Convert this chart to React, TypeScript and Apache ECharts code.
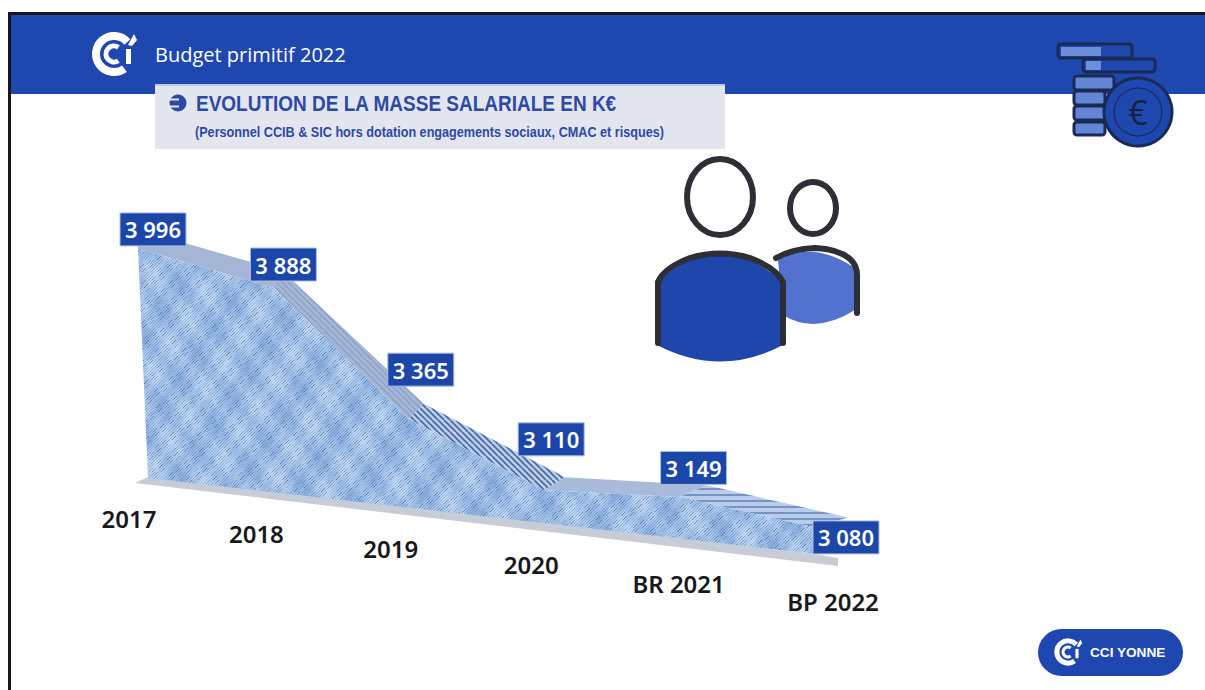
import React, { useEffect, useRef } from "react";
import * as echarts from "echarts";

const categories = ["2017", "2018", "2019", "2020", "BR 2021", "BP 2022"];
const salaryValues = [3996, 3888, 3365, 3110, 3149, 3080];
const valueLabels = ["3 996", "3 888", "3 365", "3 110", "3 149", "3 080"];

// Label placement relative to each point of the front face
const valueLabelNudge = [[15, -19], [10, -23], [12, -49], [7, -51], [14, -29], [31, 10]];
const categoryNudge = [[-9, 40], [-17, 40], [-18, 40], [-13, 41], [-1, 45], [18, 47]];

const BLUE = "#1f47b0";
const DARK = "#2c2f36";
const FONT = '"Open Sans", "Noto Sans", sans-serif';
const SKEW_PER_STEP = 15.2;

function tile(size: number, paint: (c: CanvasRenderingContext2D) => void) {
  const canvas = document.createElement("canvas");
  canvas.width = size;
  canvas.height = size;
  paint(canvas.getContext("2d") as CanvasRenderingContext2D);
  return { image: canvas, repeat: "repeat" as const };
}

// Woven diagonal hatching of the front face: fine broken strokes over soft mottling
function hatchPattern() {
  const size = 192;
  const turn = (2 * Math.PI) / size;
  return tile(size, (c) => {
    for (let gy = 0; gy < size; gy += 2) {
      for (let gx = 0; gx < size; gx += 2) {
        const w =
          Math.sin(gx * turn * 3 + gy * turn * 2) +
          Math.sin(gx * turn * 5 - gy * turn * 4) +
          0.6 * Math.sin(gx * turn * 13 + gy * turn * 9);
        const r = 166 + 12 * w;
        const g = 197 + 9 * w;
        const b = 236 + 5 * w;
        c.fillStyle = `rgb(${r},${g},${b})`;
        c.fillRect(gx, gy, 2, 2);
      }
    }
    c.lineWidth = 1;
    for (let k = -size; k < 2 * size; k += 3) {
      for (let t = 0; t < size; t += 4) {
        const w = Math.sin((k + 2 * t) * turn * 7) * Math.sin((k - t) * turn * 11);
        const alpha = 0.14 + 0.5 * w * w;
        c.strokeStyle = `rgba(40,72,122,${alpha})`;
        c.beginPath();
        c.moveTo(k + t, size - t);
        c.lineTo(k + t + 4, size - t - 4);
        c.stroke();
      }
    }
  });
}

function stripePattern(base: string, line: string, dir: "down" | "flat") {
  return tile(12, (c) => {
    c.fillStyle = base;
    c.fillRect(0, 0, 12, 12);
    c.strokeStyle = line;
    c.lineWidth = 1.6;
    c.beginPath();
    if (dir === "flat") {
      c.moveTo(0, 3);
      c.lineTo(12, 3);
      c.moveTo(0, 9);
      c.lineTo(12, 9);
    } else {
      for (let k = -12; k <= 24; k += 6) {
        c.moveTo(k, 0);
        c.lineTo(k + 12, 12);
      }
    }
    c.stroke();
  });
}

function logoElements(cx: number, cy: number, k: number, color: string) {
  const arc = (r: number, w: number, a0: number, a1: number) => ({
    type: "arc",
    shape: { cx, cy, r: r * k, startAngle: a0, endAngle: a1, clockwise: true },
    style: { stroke: color, fill: "none", lineWidth: w * k, lineCap: "butt" },
  });
  return [
    arc(18, 8, 0.95, 5.55),
    arc(8, 5, 1.0, 5.3),
    { type: "rect", shape: { x: cx + 12 * k, y: cy - 5 * k, width: 5 * k, height: 15 * k }, style: { fill: color } },
    { type: "polygon", shape: { points: [[cx + 14 * k, cy - 9 * k], [cx + 20 * k, cy - 20 * k], [cx + 23 * k, cy - 14 * k], [cx + 18 * k, cy - 8 * k]] }, style: { fill: color } },
  ];
}

function coinBar(x: number, y: number, w: number, h: number, fill: string) {
  return { type: "rect", shape: { x, y, width: w, height: h, r: 3 }, style: { fill, stroke: "#1b2a52", lineWidth: 3 } };
}

export default function App() {
  const ref = useRef<HTMLDivElement>(null);

  useEffect(() => {
    document.body.style.margin = "0";
    echarts.graphic.registerShape(
      "bodyFront",
      echarts.graphic.extendPath("M657 282 Q720 226 783 282 L783 345 Q720 378 657 345 Z", {})
    );
    echarts.graphic.registerShape(
      "bodyFrontLine",
      echarts.graphic.extendPath("M658 343 L658 282 Q664 268 690 258 Q720 249 750 258 Q776 268 783 282 L783 343", {})
    );
    echarts.graphic.registerShape(
      "bodyBack",
      echarts.graphic.extendPath("M778 260 Q813 240 855 268 L855 310 Q815 335 783 315 Z", {})
    );
    echarts.graphic.registerShape(
      "bodyBackLine",
      echarts.graphic.extendPath("M776 258 Q792 249 815 248 Q838 249 850 259 Q857 265 857 275 L857 313", {})
    );

    const chart = echarts.init(ref.current as HTMLDivElement, undefined, { renderer: "svg" });

    const hatch = hatchPattern();
    const topFaces = [
      "#a5b6d5",
      stripePattern("#a4b7d6", "#8ea3c6", "down"),
      stripePattern("#bccdea", "#45689f", "down"),
      "#a9bbdb",
      stripePattern("#b9cce9", "#5f81b5", "flat"),
    ];

    const data = categories.map((c, i) => [c, salaryValues[i]]);
    const frontPoint = (api: any, i: number, v: number) => {
      const p = api.coord([i, v]);
      return [p[0], p[1] + i * SKEW_PER_STEP];
    };
    const backPoint = (api: any, i: number, v: number) => {
      const p = frontPoint(api, i, v);
      return [p[0] + 3 + 6 * i, p[1] - (18 - 1.6 * i)];
    };
    const yFloor = 2960;

    const option: any = {
      animation: false,
      backgroundColor: "#ffffff",
      grid: { left: 138, right: 390, top: 247.5, height: 230.5 },
      xAxis: { type: "category", data: categories, boundaryGap: false, show: false },
      yAxis: { type: "value", min: yFloor, max: 4000, show: false },
      graphic: [
        { type: "rect", shape: { x: 10, y: 14, width: 1195, height: 80 }, style: { fill: BLUE } },
        { type: "rect", shape: { x: 8, y: 12, width: 1197, height: 3 }, style: { fill: "#15171c" } },
        { type: "rect", shape: { x: 8, y: 12, width: 3, height: 678 }, style: { fill: "#15171c" } },
        ...logoElements(114, 54, 1, "#ffffff"),
        {
          type: "text",
          style: { text: "Budget primitif 2022", x: 155, y: 54, fill: "#ffffff", font: `400 20px ${FONT}`, verticalAlign: "middle" },
        },
        { type: "rect", shape: { x: 155, y: 84, width: 570, height: 65 }, style: { fill: "#e3e6ee" } },
        { type: "rect", shape: { x: 155, y: 84, width: 570, height: 2 }, style: { fill: "#b9cbe9" } },
        // Bullet: disc split by two thin gaps on its left side, leaving an arrow bar
        { type: "circle", shape: { cx: 178, cy: 103, r: 8.5 }, style: { fill: "#2c4aa5" } },
        { type: "rect", shape: { x: 168, y: 98.5, width: 11, height: 2 }, style: { fill: "#e3e6ee" } },
        { type: "rect", shape: { x: 168, y: 105.5, width: 11, height: 2 }, style: { fill: "#e3e6ee" } },
        {
          type: "text",
          scaleY: 1.12,
          originX: 196,
          originY: 104,
          style: { text: "EVOLUTION DE LA MASSE SALARIALE EN K€", x: 196, y: 104, fill: "#2c4aa5", font: `700 19px "Liberation Sans", sans-serif`, verticalAlign: "middle" },
        },
        {
          type: "text",
          scaleY: 1.1,
          originX: 195,
          originY: 132,
          style: { text: "(Personnel CCIB & SIC hors dotation engagements sociaux, CMAC et risques)", x: 195, y: 132, fill: "#2c4aa5", font: `700 12.65px "Liberation Sans", sans-serif`, verticalAlign: "middle" },
        },
        // Two figures
        { type: "ellipse", shape: { cx: 813, cy: 208, rx: 23, ry: 26 }, style: { fill: "#ffffff", stroke: DARK, lineWidth: 6 } },
        { type: "bodyBack", x: 0, y: 0, style: { fill: "#5372cf" } },
        { type: "bodyBackLine", x: 0, y: 0, style: { fill: "none", stroke: DARK, lineWidth: 6, lineCap: "round" } },
        { type: "ellipse", shape: { cx: 720, cy: 197, rx: 33, ry: 38 }, style: { fill: "#ffffff", stroke: DARK, lineWidth: 6 } },
        { type: "bodyFront", x: 0, y: 0, style: { fill: "#1f46ab" } },
        { type: "bodyFrontLine", x: 0, y: 0, style: { fill: "none", stroke: DARK, lineWidth: 6, lineCap: "round" } },
        // Coin stack
        coinBar(1058, 44, 74, 14, BLUE),
        { type: "rect", shape: { x: 1061, y: 47, width: 40, height: 9 }, style: { fill: "#6d90dc" } },
        coinBar(1083, 59, 72, 13, BLUE),
        { type: "rect", shape: { x: 1086, y: 61, width: 15, height: 9 }, style: { fill: "#6d90dc" } },
        coinBar(1074, 76, 40, 14, "#6285d6"),
        coinBar(1074, 91, 31, 14, "#6285d6"),
        coinBar(1074, 106, 31, 14, "#6285d6"),
        coinBar(1074, 122, 31, 13, "#6285d6"),
        { type: "circle", shape: { cx: 1138, cy: 112, r: 34 }, style: { fill: BLUE, stroke: "#1b2a52", lineWidth: 3 } },
        { type: "circle", shape: { cx: 1138, cy: 112, r: 24 }, style: { fill: "none", stroke: "#1b2a52", lineWidth: 1.2 } },
        { type: "text", style: { text: "€", x: 1138, y: 112, fill: "#16223f", font: `400 34px ${FONT}`, align: "center", verticalAlign: "middle" } },
        // Chamber badge
        { type: "rect", shape: { x: 1038, y: 629, width: 145, height: 47, r: 23.5 }, style: { fill: BLUE } },
        ...logoElements(1068, 652, 0.62, "#ffffff"),
        { type: "text", style: { text: "CCI YONNE", x: 1090, y: 652, fill: "#ffffff", font: `700 13.6px "Liberation Sans", sans-serif`, verticalAlign: "middle" } },
      ],
      series: [
        {
          // Ground shadow under the face
          type: "custom",
          name: "sol",
          z: 2,
          silent: true,
          data,
          renderItem: (p: any, api: any) => {
            if (p.dataIndex !== 0) return null;
            const a = frontPoint(api, 0, yFloor);
            const b = frontPoint(api, categories.length - 1, yFloor);
            return {
              type: "polygon",
              shape: { points: [[a[0] - 3, a[1] + 5], [a[0] + 10, a[1] - 1], b, [b[0] + 23, b[1] + 4], [b[0] + 23, b[1] + 12]] },
              style: { fill: "#c8ccd6" },
            };
          },
        },
        {
          // Upper bevel, one quad per interval
          type: "custom",
          name: "dessus",
          z: 3,
          silent: true,
          data,
          renderItem: (p: any, api: any) => {
            const i = p.dataIndex;
            if (i >= categories.length - 1) return null;
            const v0 = api.value(1);
            const v1 = salaryValues[i + 1];
            return {
              type: "polygon",
              shape: { points: [backPoint(api, i, v0), backPoint(api, i + 1, v1), frontPoint(api, i + 1, v1), frontPoint(api, i, v0)] },
              style: { fill: topFaces[i] },
            };
          },
        },
        {
          // Front face
          type: "custom",
          name: "masse salariale",
          z: 4,
          silent: true,
          data,
          renderItem: (p: any, api: any) => {
            if (p.dataIndex !== 0) return null;
            const tops = salaryValues.map((v, i) => frontPoint(api, i, v));
            const a = frontPoint(api, 0, yFloor);
            const b = frontPoint(api, categories.length - 1, yFloor);
            return {
              type: "polygon",
              shape: { points: [...tops, b, [a[0] + 10, a[1]]] },
              style: { fill: hatch },
            };
          },
        },
        {
          // Value boxes and category names
          type: "custom",
          name: "etiquettes",
          z: 6,
          silent: true,
          data,
          renderItem: (p: any, api: any) => {
            const i = p.dataIndex;
            const top = frontPoint(api, i, api.value(1));
            const base = frontPoint(api, i, yFloor);
            const lx = top[0] + valueLabelNudge[i][0];
            const ly = top[1] + valueLabelNudge[i][1];
            return {
              type: "group",
              children: [
                { type: "rect", shape: { x: lx - 33, y: ly - 16.5, width: 66, height: 33 }, style: { fill: "#1c47a8", stroke: "#a9bfe6", lineWidth: 1 } },
                { type: "text", style: { text: valueLabels[i], x: lx, y: ly, fill: "#ffffff", font: `600 22px "Noto Sans", sans-serif`, align: "center", verticalAlign: "middle" } },
                { type: "text", style: { text: categories[i], x: base[0] + categoryNudge[i][0], y: base[1] + categoryNudge[i][1], fill: "#17181b", font: `600 24px "Noto Sans", sans-serif`, align: "center", verticalAlign: "middle" } },
              ],
            };
          },
        },
      ],
    };

    chart.setOption(option);
    return () => chart.dispose();
  }, []);

  return <div ref={ref} style={{ position: "fixed", left: 0, top: 0, width: 1205, height: 690 }} />;
}
